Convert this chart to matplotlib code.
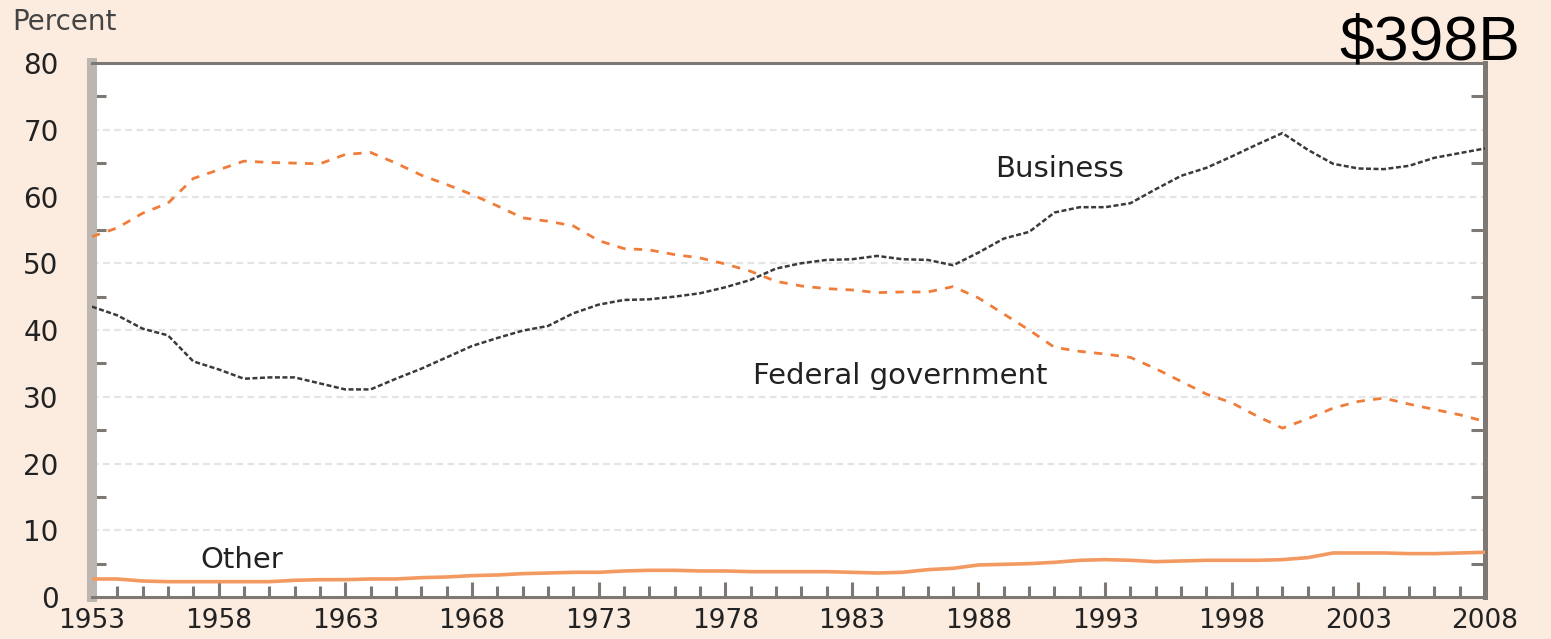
import matplotlib
matplotlib.use("Agg")
import matplotlib.pyplot as plt
from matplotlib.ticker import MultipleLocator

# R&D funding share by source, percent
years = list(range(1953, 2009))
business = [43.5, 42.2, 40.2, 39.2, 35.3, 34.1, 32.7, 32.9, 32.9, 32.0,
            31.1, 31.1, 32.7, 34.2, 35.9, 37.6, 38.8, 39.9, 40.6, 42.5,
            43.8, 44.5, 44.6, 45.0, 45.5, 46.4, 47.5, 49.2, 50.0, 50.5,
            50.6, 51.1, 50.6, 50.5, 49.7, 51.6, 53.7, 54.7, 57.6, 58.4,
            58.4, 59.0, 61.1, 63.1, 64.3, 66.0, 67.8, 69.5, 67.0, 64.9,
            64.2, 64.1, 64.6, 65.8, 66.5, 67.2]
federal = [54.0, 55.3, 57.5, 59.0, 62.7, 64.0, 65.3, 65.1, 65.0, 64.9,
           66.3, 66.6, 65.0, 63.2, 61.8, 60.3, 58.6, 56.8, 56.3, 55.6,
           53.4, 52.2, 52.0, 51.3, 50.8, 49.9, 48.8, 47.3, 46.6, 46.2,
           46.0, 45.6, 45.7, 45.7, 46.5, 44.8, 42.4, 40.0, 37.4, 36.8,
           36.4, 35.9, 34.2, 32.3, 30.4, 29.1, 27.1, 25.3, 26.7, 28.3,
           29.3, 29.8, 28.9, 28.1, 27.3, 26.3]
other = [2.7, 2.7, 2.4, 2.3, 2.3, 2.3, 2.3, 2.3, 2.5, 2.6,
         2.6, 2.7, 2.7, 2.9, 3.0, 3.2, 3.3, 3.5, 3.6, 3.7,
         3.7, 3.9, 4.0, 4.0, 3.9, 3.9, 3.8, 3.8, 3.8, 3.8,
         3.7, 3.6, 3.7, 4.1, 4.3, 4.8, 4.9, 5.0, 5.2, 5.5,
         5.6, 5.5, 5.3, 5.4, 5.5, 5.5, 5.5, 5.6, 5.9, 6.6,
         6.6, 6.6, 6.5, 6.5, 6.6, 6.7]
x_labels = list(range(1953, 2009, 5))
y_labels = list(range(0, 81, 10))

bg = '#fcece0'
axis_col = '#7d7874'
orange = '#f07c3a'

fig = plt.figure(figsize=(15.51, 6.39), dpi=100, facecolor=bg)
ax = fig.add_axes([0.0593, 0.0657, 0.8982, 0.8357])
ax.set_facecolor('white')

ax.plot(years, other, color='#f29a62', lw=2.6, solid_capstyle='butt', zorder=3)
ax.plot(years, federal, color=orange, lw=2.0, linestyle=(0, (3, 3)), zorder=3)
ax.plot(years, business, color='#3a3a3a', lw=1.8, linestyle=(0, (2, 1)), zorder=3)

ax.set_xlim(1953, 2008)
ax.set_ylim(0, 80)

# grid
for v in y_labels[1:-1]:
    ax.axhline(v, color='#e4e4e4', lw=1.6, linestyle=(0, (3, 2)), zorder=1)

# spines
ax.spines['left'].set_color('#bcb6b1')
ax.spines['left'].set_linewidth(7.2)
ax.spines['right'].set_color(axis_col)
ax.spines['right'].set_linewidth(3.6)
ax.spines['top'].set_color(axis_col)
ax.spines['top'].set_linewidth(2.2)
ax.spines['bottom'].set_color(axis_col)
ax.spines['bottom'].set_linewidth(2.2)

# ticks
ax.set_xticks(x_labels)
ax.set_xticklabels([str(v) for v in x_labels])
ax.xaxis.set_minor_locator(MultipleLocator(1))
ax.tick_params(axis='x', which='major', direction='in', length=11, width=2.2,
               color=axis_col, pad=8, labelsize=19, labelcolor='#222222')
ax.tick_params(axis='x', which='minor', direction='in', length=8, width=2.2,
               color=axis_col)

ax.set_yticks(y_labels)
ax.set_yticklabels([str(v) for v in y_labels])
ax.yaxis.set_minor_locator(MultipleLocator(5))
ax.tick_params(axis='y', which='major', direction='in', length=0, pad=24,
               labelsize=20, labelcolor='#222222')
ax.tick_params(axis='y', which='minor', direction='in', length=10, width=2.2,
               color=axis_col, right=True, left=True)

for t in ax.get_xticklabels() + ax.get_yticklabels():
    t.set_family('DejaVu Sans')

# series labels
ax.text(1991.2, 62.9, 'Business', fontsize=21, color='#222222',
        ha='center', va='baseline', zorder=4)
ax.text(1984.9, 31.9, 'Federal government', fontsize=21, color='#222222',
        ha='center', va='baseline', zorder=4)
ax.text(1958.9, 4.3, 'Other', fontsize=21, color='#222222',
        ha='center', va='baseline', zorder=4)

fig.text(12 / 1551, 1 - 30 / 639, 'Percent', fontsize=20, color='#444444',
         ha='left', va='baseline')
fig.text(1520 / 1551, 1 - 60 / 639, '$398B', fontsize=45, color='black',
         family='Liberation Sans', ha='right', va='baseline')

fig.savefig('out.png', dpi=100, facecolor=bg)
